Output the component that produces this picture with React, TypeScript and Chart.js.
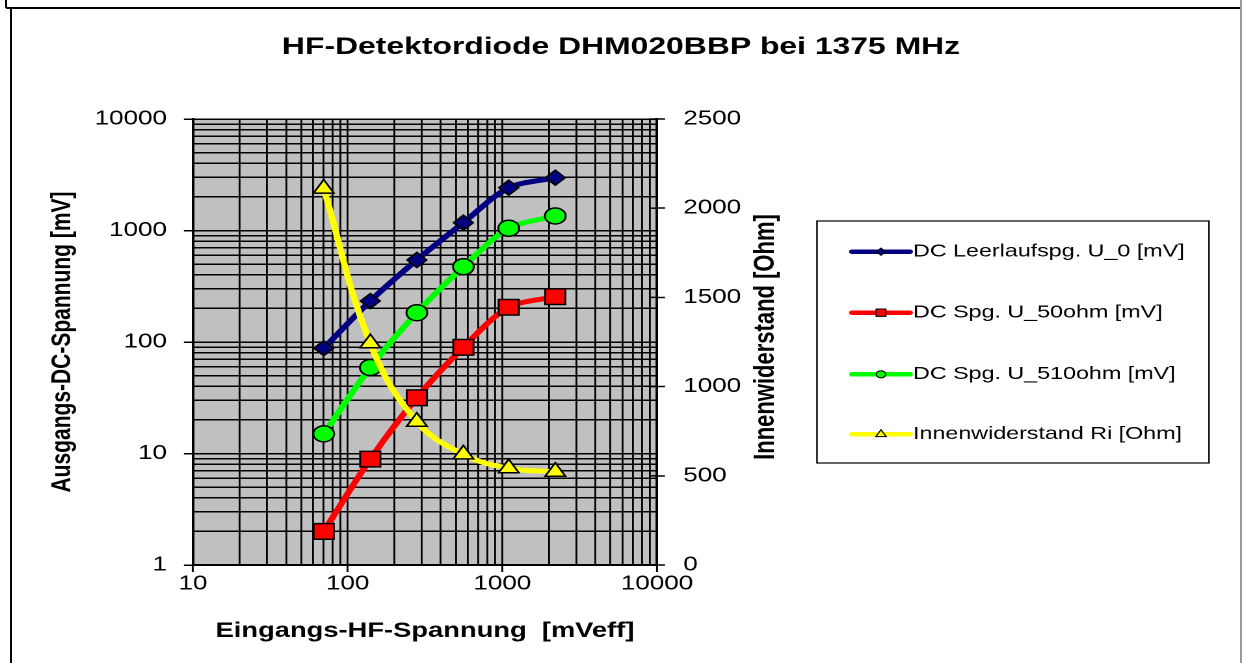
import React, { useEffect, useRef } from 'react';
import { Chart, registerables } from 'chart.js';

Chart.register(...registerables);

const FONT = "'Liberation Sans', Arial, Helvetica, sans-serif";

// ---------- data ----------
const chartTitle = 'HF-Detektordiode DHM020BBP bei 1375 MHz';
const xAxisTitle = 'Eingangs-HF-Spannung  [mVeff]';
const yAxisTitle = 'Ausgangs-DC-Spannung [mV]';
const y2AxisTitle = 'Innenwiderstand [Ohm]';

const inputVoltage = [70, 140, 280, 560, 1100, 2200]; // mVeff
const u0 = [88, 233, 544, 1175, 2420, 2975]; // mV
const u50 = [2.0, 8.9, 31.6, 89.6, 205, 255]; // mV
const u510 = [15, 59, 183, 473, 1047, 1350]; // mV
const ri = [2110, 1243, 803, 620, 542, 523]; // Ohm

const seriesLabels = [
  'DC Leerlaufspg. U_0 [mV]',
  'DC Spg. U_50ohm [mV]',
  'DC Spg. U_510ohm [mV]',
  'Innenwiderstand Ri [Ohm]',
];
const seriesColors = ['#000080', '#ff0000', '#00ff00', '#ffff00'];
const seriesMarkers = ['rectRot', 'rect', 'circle', 'triangle'];

const xDecades = [10, 100, 1000, 10000];
const yDecades = [1, 10, 100, 1000, 10000];
const minorSteps = [1, 2, 3, 4, 5, 6, 7, 8, 9];
const y2Min = 0;
const y2Max = 2500;
const y2Step = 500;

// ---------- layout (canvas units; canvas is stretched horizontally) ----------
const PAGE_W = 1242;
const PAGE_H = 663;
const CANVAS_W = 955;
const STRETCH = PAGE_W / CANVAS_W;
const PLOT_LEFT = 193 / STRETCH;
const PLOT_RIGHT = 657 / STRETCH;
const PLOT_BOTTOM = 565;
const PLOT_BG = '#c0c0c0';

const LEGEND_BOX = { left: 817 / STRETCH, top: 221, right: 1209 / STRETCH, bottom: 463 };
const LEGEND_LINE = { x1: 852 / STRETCH, x2: 910 / STRETCH, textX: 913 / STRETCH };
const LEGEND_ROWS = [251.7, 312.7, 374.3, 434.3];
const LEGEND_MARKER_R = [3.6, 3.7, 3.6, 4.6];
const RIGHT_TITLE = { x: 766 / STRETCH, y: 337 };

const logTicks = (decades: number[]) => {
  const out: number[] = [];
  decades.forEach((d, i) => {
    if (i === decades.length - 1) out.push(d);
    else minorSteps.forEach((m) => out.push(m * d));
  });
  return out;
};
const isDecade = (v: number) => Math.abs(Math.log10(v) - Math.round(Math.log10(v))) < 1e-6;
const xTickValues = logTicks(xDecades);
const yTickValues = logTicks(yDecades);

function drawMarker(ctx: CanvasRenderingContext2D, style: string, x: number, y: number, r: number) {
  ctx.beginPath();
  if (style === 'rectRot') {
    ctx.moveTo(x, y - r);
    ctx.lineTo(x + r, y);
    ctx.lineTo(x, y + r);
    ctx.lineTo(x - r, y);
    ctx.closePath();
  } else if (style === 'rect') {
    ctx.rect(x - r, y - r, 2 * r, 2 * r);
  } else if (style === 'circle') {
    ctx.arc(x, y, r, 0, Math.PI * 2);
  } else {
    ctx.moveTo(x, y - r);
    ctx.lineTo(x + r * 0.866, y + r / 2);
    ctx.lineTo(x - r * 0.866, y + r / 2);
    ctx.closePath();
  }
  ctx.fill();
  ctx.stroke();
}

const decorPlugin = {
  id: 'decor',
  beforeDraw(chart: any) {
    const { ctx, chartArea: a } = chart;
    ctx.save();
    ctx.fillStyle = PLOT_BG;
    ctx.fillRect(a.left, a.top, a.right - a.left, a.bottom - a.top);
    ctx.restore();
  },
  afterDraw(chart: any) {
    const { ctx, chartArea: a } = chart;
    const y2 = chart.scales.y2;
    ctx.save();
    // inner half of the secondary axis tick marks
    ctx.strokeStyle = '#000';
    ctx.lineWidth = 1.5;
    y2.ticks.forEach((t: any) => {
      const py = y2.getPixelForValue(t.value);
      ctx.beginPath();
      ctx.moveTo(a.right - 6, py);
      ctx.lineTo(a.right, py);
      ctx.stroke();
    });
    ctx.restore();

    // secondary axis title (reads bottom to top)
    ctx.save();
    ctx.translate(RIGHT_TITLE.x, RIGHT_TITLE.y);
    ctx.rotate(-Math.PI / 2);
    ctx.font = `bold 22px ${FONT}`;
    ctx.fillStyle = '#000';
    ctx.textAlign = 'center';
    ctx.textBaseline = 'middle';
    ctx.fillText(y2AxisTitle, 0, 0);
    ctx.restore();

    // legend
    ctx.save();
    ctx.fillStyle = '#ffffff';
    ctx.fillRect(LEGEND_BOX.left, LEGEND_BOX.top, LEGEND_BOX.right - LEGEND_BOX.left, LEGEND_BOX.bottom - LEGEND_BOX.top);
    ctx.strokeStyle = '#000';
    ctx.lineWidth = 1.2;
    ctx.strokeRect(LEGEND_BOX.left, LEGEND_BOX.top, LEGEND_BOX.right - LEGEND_BOX.left, LEGEND_BOX.bottom - LEGEND_BOX.top);
    chart.data.datasets.forEach((ds: any, i: number) => {
      const y = LEGEND_ROWS[i];
      ctx.strokeStyle = ds.borderColor;
      ctx.lineWidth = 4.5;
      ctx.lineCap = 'round';
      ctx.beginPath();
      ctx.moveTo(LEGEND_LINE.x1, y);
      ctx.lineTo(LEGEND_LINE.x2, y);
      ctx.stroke();
      ctx.lineCap = 'butt';
      ctx.fillStyle = ds.pointBackgroundColor;
      ctx.strokeStyle = '#000';
      ctx.lineWidth = 1;
      drawMarker(ctx, ds.pointStyle, (LEGEND_LINE.x1 + LEGEND_LINE.x2) / 2, y, LEGEND_MARKER_R[i]);
      ctx.fillStyle = '#000';
      ctx.font = `17.9px ${FONT}`;
      ctx.textAlign = 'left';
      ctx.textBaseline = 'middle';
      ctx.fillText(ds.label, LEGEND_LINE.textX, y);
    });
    ctx.restore();
  },
};

const seriesValues = [u0, u50, u510, ri];
const pointRadii = [7.5, 11, 8, 9];
const drawOrder = [3, 2, 1, 0];
const tensions = [0.3, 0.3, 0.3, 0.4];

export default function App() {
  const canvasRef = useRef<HTMLCanvasElement | null>(null);

  useEffect(() => {
    if (!canvasRef.current) return;
    Chart.defaults.font.family = FONT;
    const datasets = seriesValues.map((vals, i) => ({
      label: seriesLabels[i],
      data: inputVoltage.map((x, j) => ({ x, y: vals[j] })),
      borderColor: seriesColors[i],
      backgroundColor: seriesColors[i],
      borderWidth: 5,
      pointStyle: seriesMarkers[i],
      pointRadius: pointRadii[i],
      pointBackgroundColor: seriesColors[i],
      pointBorderColor: '#000',
      pointBorderWidth: 1.5,
      tension: tensions[i],
      yAxisID: i === 3 ? 'y2' : 'y',
      order: drawOrder[i],
      fill: false,
    }));

    const chart = new Chart(canvasRef.current, {
      type: 'line',
      data: { datasets },
      plugins: [decorPlugin],
      options: {
        animation: false,
        responsive: true,
        maintainAspectRatio: false,
        devicePixelRatio: 2,
        layout: { padding: { top: 12, left: 0, right: 0, bottom: 0 } },
        plugins: {
          legend: { display: false },
          tooltip: { enabled: false },
          title: {
            display: true,
            text: chartTitle,
            color: '#000',
            font: { size: 24.5, weight: 'bold' },
            padding: { top: 20.3, bottom: 57.3 },
          },
        },
        scales: {
          x: {
            type: 'logarithmic',
            min: 10,
            max: 10000,
            afterBuildTicks: (s: any) => {
              s.ticks = xTickValues.map((v) => ({ value: v, major: isDecade(v) }));
            },
            afterFit: (s: any) => {
              s.height = PAGE_H - PLOT_BOTTOM;
            },
            ticks: {
              autoSkip: false,
              maxRotation: 0,
              minRotation: 0,
              padding: 0,
              color: '#000',
              font: { size: 20 },
              callback: (v: any) => (isDecade(Number(v)) ? String(v) : ''),
            },
            grid: {
              color: '#000',
              lineWidth: 1.4,
              tickLength: 7,
              tickWidth: 1.5,
              tickColor: (c: any) => (c.tick && isDecade(c.tick.value) ? '#000' : 'rgba(0,0,0,0)'),
            },
            border: { color: '#000', width: 2 },
            title: {
              display: true,
              text: xAxisTitle,
              color: '#000',
              font: { size: 21, weight: 'bold' },
              padding: { top: 0, bottom: 19.4 },
            },
          },
          y: {
            type: 'logarithmic',
            position: 'left',
            min: 1,
            max: 10000,
            afterBuildTicks: (s: any) => {
              s.ticks = yTickValues.map((v) => ({ value: v, major: isDecade(v) }));
            },
            afterFit: (s: any) => {
              s.width = PLOT_LEFT;
            },
            ticks: {
              autoSkip: false,
              padding: 13,
              color: '#000',
              font: { size: 20 },
              callback: (v: any) => (isDecade(Number(v)) ? String(v) : ''),
            },
            grid: {
              color: '#000',
              lineWidth: 1.5,
              tickLength: 7,
              tickWidth: 1.5,
              tickColor: (c: any) => (c.tick && isDecade(c.tick.value) ? '#000' : 'rgba(0,0,0,0)'),
            },
            border: { color: '#000', width: 2 },
            title: {
              display: true,
              text: yAxisTitle,
              color: '#000',
              font: { size: 21, weight: 'bold' },
              padding: { top: 35.8, bottom: 0 },
            },
          },
          y2: {
            type: 'linear',
            position: 'right',
            min: y2Min,
            max: y2Max,
            afterFit: (s: any) => {
              s.width = s.chart.width - PLOT_RIGHT;
            },
            ticks: {
              stepSize: y2Step,
              padding: 14,
              color: '#000',
              font: { size: 20 },
              callback: (v: any) => String(v),
            },
            grid: {
              drawOnChartArea: false,
              color: '#000',
              tickLength: 6.2,
              tickWidth: 1.5,
            },
            border: { color: '#000', width: 2 },
          },
        },
      } as any,
    });
    return () => chart.destroy();
  }, []);

  return (
    <div style={{ position: 'absolute', left: 0, top: 0, width: PAGE_W, height: PAGE_H, overflow: 'hidden', background: '#fff' }}>
      <div
        style={{
          position: 'absolute',
          left: 0,
          top: 0,
          width: CANVAS_W,
          height: PAGE_H,
          transform: `scaleX(${STRETCH})`,
          transformOrigin: '0 0',
        }}
      >
        <canvas ref={canvasRef} />
      </div>
      <div style={{ position: 'absolute', left: 5, top: 0, width: 2, height: 8, background: '#000' }} />
      <div style={{ position: 'absolute', left: 6, top: 7, width: 1234, height: 2, background: '#000' }} />
      <div style={{ position: 'absolute', left: 10, top: 8, width: 2, height: PAGE_H - 8, background: '#000' }} />
      <div style={{ position: 'absolute', left: 1240, top: 0, width: 2, height: PAGE_H, background: '#9a9a9a' }} />
    </div>
  );
}
